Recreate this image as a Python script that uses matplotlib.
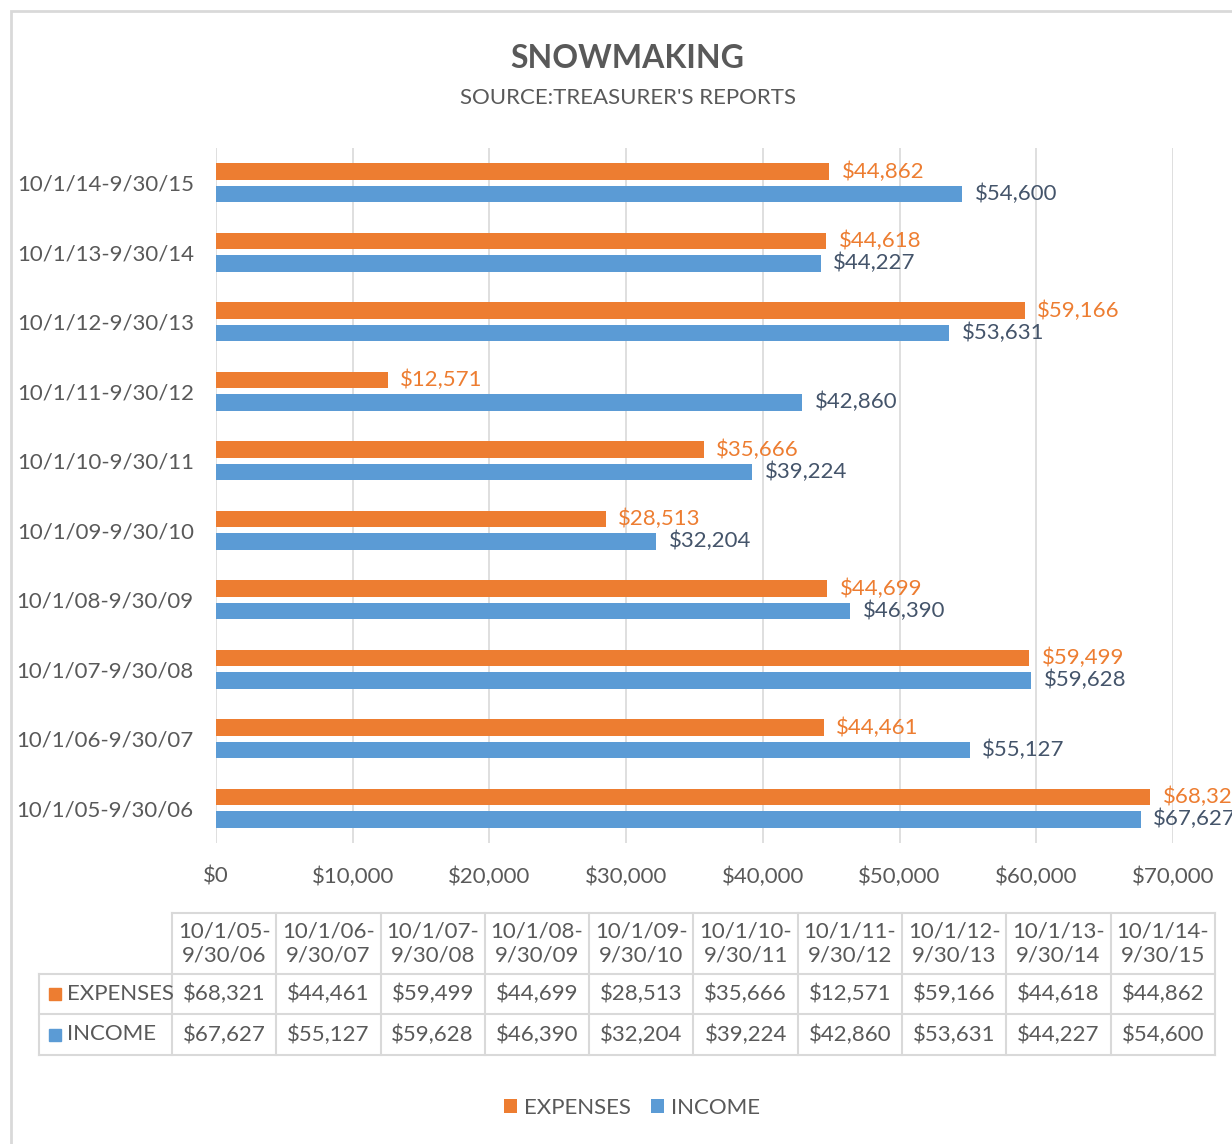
import matplotlib.pyplot as plt
from matplotlib.patches import Rectangle
from matplotlib.lines import Line2D
from matplotlib.ticker import FuncFormatter

periods = ["10/1/05-9/30/06", "10/1/06-9/30/07", "10/1/07-9/30/08", "10/1/08-9/30/09",
           "10/1/09-9/30/10", "10/1/10-9/30/11", "10/1/11-9/30/12", "10/1/12-9/30/13",
           "10/1/13-9/30/14", "10/1/14-9/30/15"]
expenses = [68321, 44461, 59499, 44699, 28513, 35666, 12571, 59166, 44618, 44862]
income = [67627, 55127, 59628, 46390, 32204, 39224, 42860, 53631, 44227, 54600]

ORANGE = "#ED7D31"
BLUE = "#5B9BD5"
GRAY = "#595959"
GRID = "#D9D9D9"

plt.rcParams['font.family'] = ['Lato', 'DejaVu Sans']

W, H = 1232, 1144
fig = plt.figure(figsize=(W / 100, H / 100), dpi=100)

def fx(x):
    return x / W

def fy(y):
    return 1 - y / H

# outer chart border (goes off the right/bottom edge)
fig.patches.append(Rectangle((fx(11), fy(1200)), fx(1300), fy(11) - fy(1200),
                             transform=fig.transFigure, fill=False,
                             edgecolor=GRID, linewidth=2))

fig.text(fx(627), fy(58), "SNOWMAKING", ha='center', va='center',
         fontsize=23, fontweight='bold', color=GRAY)
fig.text(fx(628), fy(98), "SOURCE:TREASURER'S REPORTS", ha='center', va='center',
         fontsize=16, color=GRAY)

ax = fig.add_axes([fx(216), fy(843), fx(1173) - fx(216), fy(148) - fy(843)])
y = list(range(len(periods)))
off = 0.16
hb = 0.235
b1 = ax.barh([v + off for v in y], expenses, height=hb, color=ORANGE, label="EXPENSES")
b2 = ax.barh([v - off for v in y], income, height=hb, color=BLUE, label="INCOME")
ax.bar_label(b1, labels=[f"${v:,}" for v in expenses], padding=9, color=ORANGE,
             fontsize=16, clip_on=False)
ax.bar_label(b2, labels=[f"${v:,}" for v in income], padding=9, color="#44546A",
             fontsize=16, clip_on=False)

ax.set_xlim(0, 70000)
ax.set_ylim(-0.5, len(periods) - 0.5)
ax.set_xticks(range(0, 70001, 10000))
ax.xaxis.set_major_formatter(FuncFormatter(lambda v, p: f"${int(v):,}"))
ax.set_yticks(y)
ax.set_yticklabels(periods)
ax.tick_params(axis='both', length=0, labelsize=16, labelcolor=GRAY)
ax.tick_params(axis='x', pad=17)
ax.tick_params(axis='y', pad=16)
ax.grid(axis='x', color=GRID, linewidth=1.2)
ax.set_axisbelow(True)
for s in ax.spines.values():
    s.set_visible(False)

# data table under the chart
x0, cw = 172, 104.3
lab_x = 38.5
r_top, r_head, r_exp, r_inc = 913, 974, 1014, 1055
ncol = len(periods)
x_end = x0 + cw * ncol

def hline(yy, xa, xb):
    fig.add_artist(Line2D([fx(xa), fx(xb)], [fy(yy), fy(yy)], color=GRID, linewidth=1.5,
                          transform=fig.transFigure))

def vline(xx, ya, yb):
    fig.add_artist(Line2D([fx(xx), fx(xx)], [fy(ya), fy(yb)], color=GRID, linewidth=1.5,
                          transform=fig.transFigure))

hline(r_top, x0, x_end)
for yy in (r_head, r_exp, r_inc):
    hline(yy, lab_x, x_end)
vline(lab_x, r_head, r_inc)
for k in range(ncol + 1):
    vline(x0 + cw * k, r_top, r_inc)

for k, p in enumerate(periods):
    cx = x0 + cw * (k + 0.5)
    a, b = p.split("-")
    fig.text(fx(cx), fy((r_top + r_head) / 2), a + "-\n" + b, ha='center', va='center',
             fontsize=16, color=GRAY, linespacing=1.2)
    fig.text(fx(cx), fy((r_head + r_exp) / 2), f"${expenses[k]:,}", ha='center',
             va='center', fontsize=16, color=GRAY)
    fig.text(fx(cx), fy((r_exp + r_inc) / 2), f"${income[k]:,}", ha='center',
             va='center', fontsize=16, color=GRAY)

for name, col, ra, rb in (("EXPENSES", ORANGE, r_head, r_exp), ("INCOME", BLUE, r_exp, r_inc)):
    cy = (ra + rb) / 2
    fig.patches.append(Rectangle((fx(49), fy(cy + 6)), fx(12), fy(cy - 6) - fy(cy + 6),
                                 transform=fig.transFigure, color=col))
    fig.text(fx(67), fy(cy), name, ha='left', va='center', fontsize=16, color=GRAY)

fig.legend(handles=[b1, b2], loc='center', bbox_to_anchor=(fx(632), fy(1108)), ncol=2,
           frameon=False, fontsize=16, labelcolor=GRAY, handlelength=0.6, handleheight=0.6,
           handletextpad=0.3, columnspacing=0.9)

fig.savefig("out.png", dpi=100)
